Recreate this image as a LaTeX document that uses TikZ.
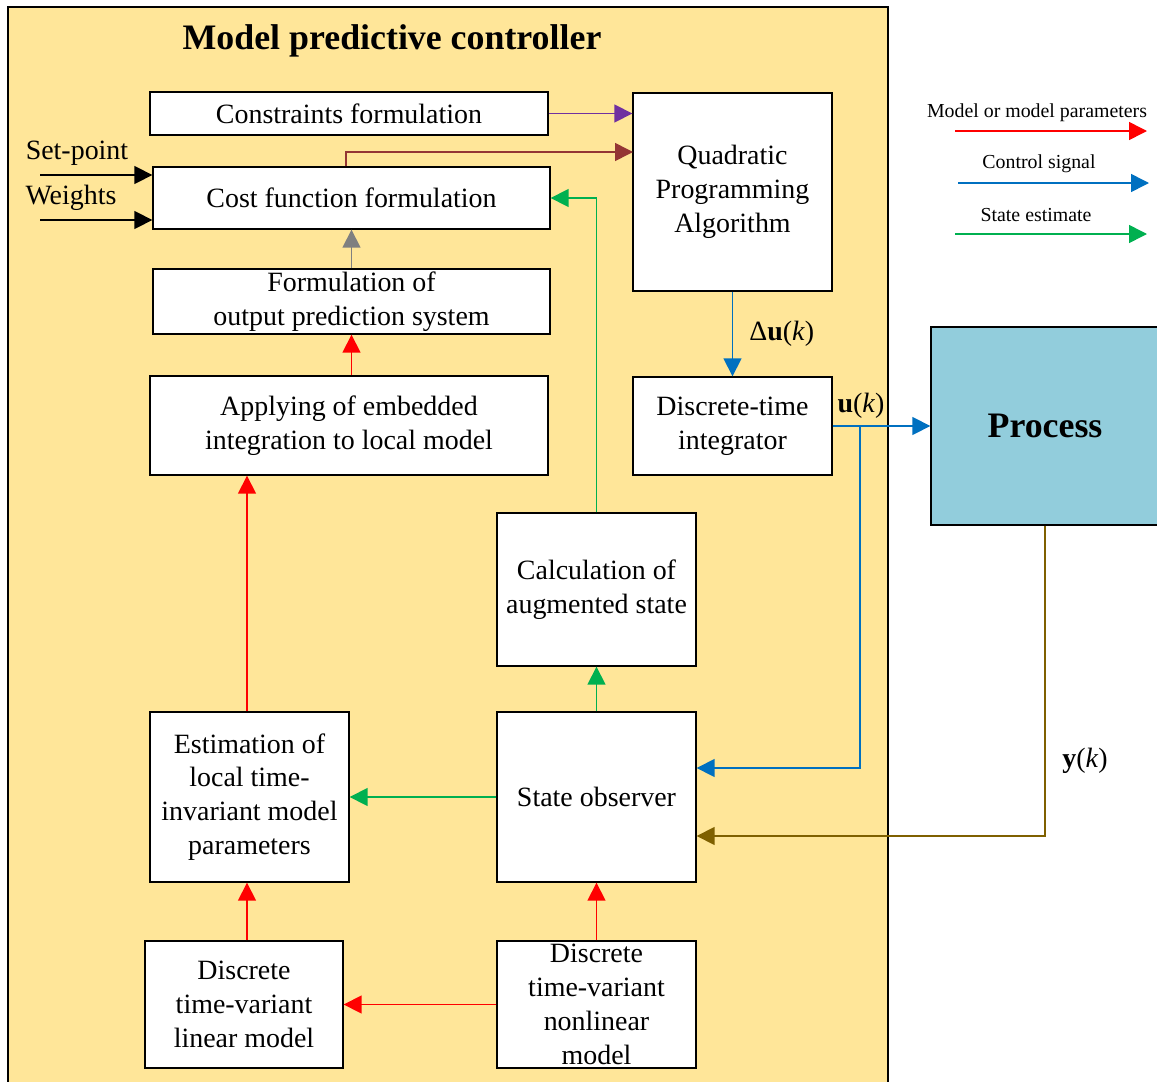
\documentclass[tikz,border=0pt]{standalone}
\usepackage{fontspec}
\setmainfont{Liberation Serif}
\usepackage{xcolor}
\usepackage{tikz}
\usetikzlibrary{arrows.meta}

\definecolor{mpcyellow}{HTML}{FFE699}
\definecolor{procblue}{HTML}{92CDDC}
\definecolor{sigred}{HTML}{FF0000}
\definecolor{sigblue}{HTML}{0070C0}
\definecolor{siggreen}{HTML}{00B050}
\definecolor{sigpurple}{HTML}{7030A0}
\definecolor{sigbrown}{HTML}{943634}
\definecolor{sigolive}{HTML}{7F6000}

\newcommand{\boxfont}{\fontsize{15.9}{19.3}\selectfont}
\newcommand{\legfont}{\fontsize{11.3}{13.5}\selectfont}

\begin{document}
\begin{tikzpicture}[
  x=0.02cm, y=-0.02cm,
  box/.style   = {rectangle, draw, fill=white, line width=0.8pt, align=center,
                  inner xsep=2pt, inner ysep=0pt, font=\boxfont},
  arr/.style   = {-{Triangle[length=0.36cm, width=0.36cm]}, line width=0.9pt},
  lbl/.style   = {font=\boxfont, inner sep=0pt, text=black},
  leg/.style   = {font=\legfont, inner sep=0pt}
]
\clip (0,0) rectangle (1157,1082);

% Controller frame
\draw[fill=mpcyellow, line width=0.8pt] (8,7) rectangle (888,1110);
\node[font=\fontsize{20.4}{24}\selectfont\bfseries] (title) at (392,41) {Model predictive controller};

% Blocks
\node[box, minimum width=7.96cm, minimum height=0.86cm] (cons)  at (349,113.5) {Constraints formulation};
\node[box, minimum width=7.94cm, minimum height=1.24cm] (cost)  at (351.5,198) {Cost function formulation};
\node[box, minimum width=7.94cm, minimum height=1.30cm] (form)  at (351.5,301.5) {Formulation of\\output prediction system};
\node[box, minimum width=7.96cm, minimum height=1.98cm] (apply) at (349,425.5) {Applying of embedded\\integration to local model};
\node[box, minimum width=3.98cm, minimum height=3.96cm] (qp)    at (732.5,192) {Quadratic\\Programming\\Algorithm};
\node[box, minimum width=3.98cm, minimum height=1.96cm] (integ) at (732.5,426) {Discrete-time\\integrator};
\node[box, fill=procblue, minimum width=4.56cm, minimum height=3.96cm,
      font=\fontsize{20.4}{24}\selectfont\bfseries] (proc) at (1045,426) {Process};
\node[box, minimum width=3.98cm, minimum height=3.06cm] (calc)  at (596.5,589.5) {Calculation of\\augmented state};
\node[box, minimum width=3.98cm, minimum height=3.40cm] (est)   at (249.5,797) {Estimation of\\local time-\\invariant model\\parameters};
\node[box, minimum width=3.98cm, minimum height=3.40cm] (obs)   at (596.5,797) {State observer};
\node[box, minimum width=3.96cm, minimum height=2.54cm] (lin)   at (244,1004.5) {Discrete\\time-variant\\linear model};
\node[box, minimum width=3.98cm, minimum height=2.54cm] (nonlin) at (596.5,1004.5) {Discrete\\time-variant\\nonlinear\\model};

% Inputs of the cost function
\coordinate (sp) at (40,175);
\coordinate (wt) at (40,220);
\coordinate (qpin) at (633,152);
\node[lbl] (splbl) at (77,153) {Set-point};
\node[lbl] (wtlbl) at (71,198) {Weights};
\draw[arr] (sp) -- (sp -| cost.west);
\draw[arr] (wt) -- (wt -| cost.west);

% Towards the optimiser
\draw[arr, sigpurple] (cons.east) -- (cons.east -| qp.west);
\draw[arr, sigbrown] ([xshift=-0.11cm]cost.north) |- (qpin);
\draw[arr, gray] (form.north) -- (cost.south);
\draw[arr, sigred] (apply.north -| form.south) -- (form.south);
\draw[arr, siggreen] (calc.north) |- (cost.east);

% Control signal
\coordinate (br) at (860,426);
\draw[arr, sigblue] (qp.south) -- node[lbl, right=0.32cm] (dulbl) {Δ\textbf{u}(\textit{k})} (integ.north);
\draw[arr, sigblue] (integ.east) -- (proc.west);
\node[lbl] (ulbl) at (861,406) {\textbf{u}(\textit{k})};
\draw[arr, sigblue] (br) |- ([yshift=0.58cm]obs.east);

% Measured output
\draw[arr, sigolive] (proc.south) |- ([yshift=-0.78cm]obs.east);
\node[lbl] (ylbl) at (1085,761) {\textbf{y}(\textit{k})};

% State estimate and models
\draw[arr, siggreen] (obs.north) -- (calc.south);
\draw[arr, siggreen] (obs.west) -- (est.east);
\draw[arr, sigred] ([xshift=-0.05cm]est.north) -- ([xshift=-0.05cm]est.north |- apply.south);
\draw[arr, sigred] ([xshift=0.06cm]lin.north) -- ([xshift=0.06cm]lin.north |- est.south);
\draw[arr, sigred] (nonlin.north) -- (obs.south);
\draw[arr, sigred] (nonlin.west) -- (lin.east);

% Legend
\coordinate (lg1a) at (955,131);  \coordinate (lg1b) at (1147,131);
\coordinate (lg2a) at (958,183);  \coordinate (lg2b) at (1149,183);
\coordinate (lg3a) at (955,234);  \coordinate (lg3b) at (1147,234);
\node[leg] (lgt1) at (1037,113) {Model or model parameters};
\node[leg] (lgt2) at (1039,164) {Control signal};
\node[leg] (lgt3) at (1036,215) {State estimate};
\draw[arr, sigred] (lg1a) -- (lg1b);
\draw[arr, sigblue] (lg2a) -- (lg2b);
\draw[arr, siggreen] (lg3a) -- (lg3b);

\end{tikzpicture}
\end{document}
